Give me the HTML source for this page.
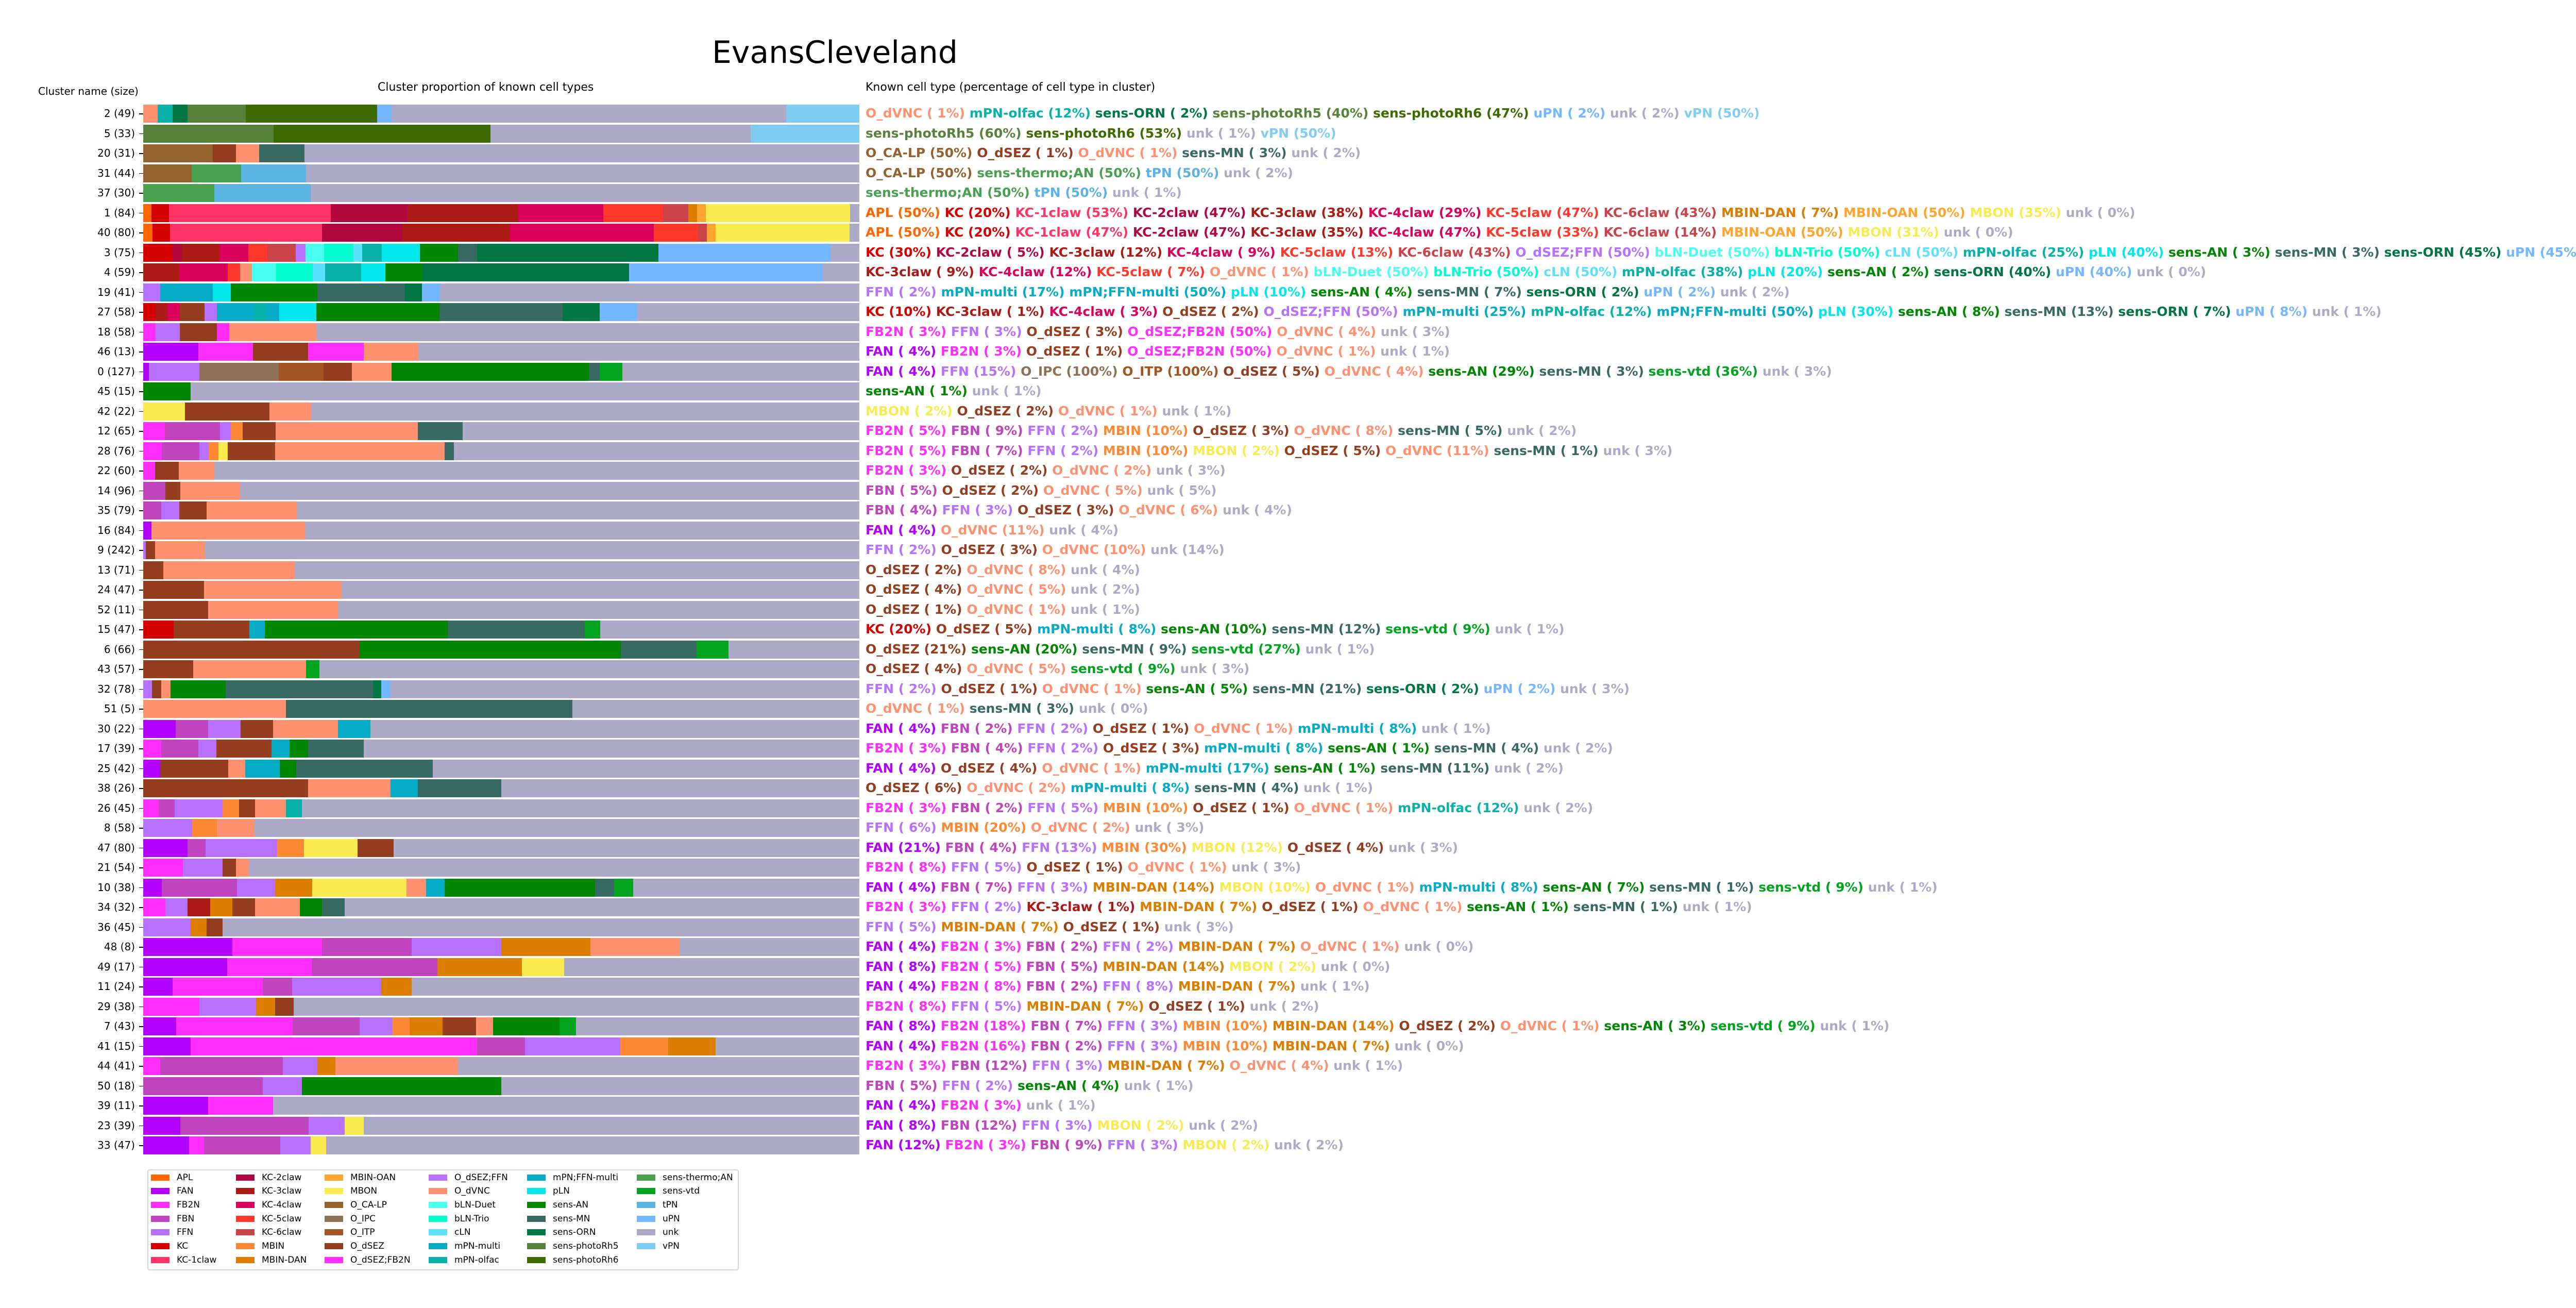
<!DOCTYPE html>
<html><head><meta charset="utf-8">
<style>
body{margin:0;width:5311px;height:2538px;background:#fff;position:relative;overflow:hidden;font-family:"DejaVu Sans","Liberation Sans",sans-serif}
.abs{position:absolute;white-space:nowrap}
.apl{--c:#ff6600}.fan{--c:#b300ff}.fb2{--c:#ff2eff}.fbn{--c:#c044bd}.ffn{--c:#b870ff}.kc{--c:#d60000}
.k1{--c:#ff3366}.k2{--c:#b0083e}.k3{--c:#ab1a15}.k4{--c:#dc005d}.k5{--c:#ff382b}.k6{--c:#c94349}
.mb{--c:#ff8834}.md{--c:#dc7d00}.mo{--c:#ffa52e}.mn{--c:#f9eb4f}.cal{--c:#93622f}.ipc{--c:#917156}
.itp{--c:#a35423}.ds{--c:#943d1f}.dsf{--c:#ff2eff}.dsff{--c:#b870ff}.dv{--c:#ff9070}.bd{--c:#48fff0}
.bt{--c:#00ffd0}.cln{--c:#5ce1ff}.mpm{--c:#06acc6}.mpo{--c:#08b2a8}.mpf{--c:#06acc6}.pln{--c:#00e8ec}
.an{--c:#008600}.smn{--c:#386a63}.orn{--c:#007642}.r5{--c:#56823b}.r6{--c:#3e6b00}.th{--c:#49a04f}
.vtd{--c:#00a41f}.tpn{--c:#5ab3e0}.upn{--c:#74b6ff}.unk{--c:#adaac8}.vpn{--c:#80cdf4}
#bars{position:absolute;left:278px;top:203px;width:1390px}
#bars>div{position:relative;height:35px;margin-bottom:3.5px;background:#adaac8}
#bars i{position:absolute;left:0;top:0;height:35px;background:var(--c);width:calc(var(--e) * 100% / 1566)}
#labs{position:absolute;left:0;top:201.25px;width:262px;text-align:right;font-size:20px}
#labs div{height:38.5px;line-height:38.5px;position:relative}
#labs div:after{content:"";position:absolute;right:-16px;top:19px;width:8px;height:1.5px;background:#000}
#txt{position:absolute;left:1680px;top:201.25px;font-size:25px;font-weight:bold;white-space:nowrap}
#txt div{height:38.5px;line-height:38.5px}
#txt b{color:var(--c)}
#leg{position:absolute;left:286px;top:2269px;width:1144px;height:192px;border:2px solid #d6d6d6;border-radius:4px}
.lc{position:absolute;top:2271.6px;font-size:17px}
.lc div{height:26.7px;line-height:26.7px;position:relative;padding-left:50px}
.lc div:before{content:"";position:absolute;left:0;top:7px;width:36px;height:12px;background:var(--c)}
</style></head><body>
<div class="abs" style="left:1382px;top:62px;font-size:60px;line-height:80px">EvansCleveland</div>
<div class="abs" style="left:74px;top:164px;font-size:20px;line-height:26px">Cluster name (size)</div>
<div class="abs" style="left:733px;top:156px;font-size:22px;line-height:28px">Cluster proportion of known cell types</div>
<div class="abs" style="left:1680px;top:156px;font-size:22px;line-height:28px">Known cell type (percentage of cell type in cluster)</div>

<div id="labs">
<div>2 (49)</div><div>5 (33)</div><div>20 (31)</div><div>31 (44)</div><div>37 (30)</div><div>1 (84)</div><div>40 (80)</div><div>3 (75)</div><div>4 (59)</div><div>19 (41)</div><div>27 (58)</div><div>18 (58)</div><div>46 (13)</div><div>0 (127)</div><div>45 (15)</div><div>42 (22)</div><div>12 (65)</div><div>28 (76)</div><div>22 (60)</div><div>14 (96)</div><div>35 (79)</div><div>16 (84)</div><div>9 (242)</div><div>13 (71)</div><div>24 (47)</div><div>52 (11)</div><div>15 (47)</div><div>6 (66)</div><div>43 (57)</div><div>32 (78)</div><div>51 (5)</div><div>30 (22)</div><div>17 (39)</div><div>25 (42)</div><div>38 (26)</div><div>26 (45)</div><div>8 (58)</div><div>47 (80)</div><div>21 (54)</div><div>10 (38)</div><div>34 (32)</div><div>36 (45)</div><div>48 (8)</div><div>49 (17)</div><div>11 (24)</div><div>29 (38)</div><div>7 (43)</div><div>41 (15)</div><div>44 (41)</div><div>50 (18)</div><div>39 (11)</div><div>23 (39)</div><div>33 (47)</div>
</div>

<div id="bars">
<div><i class="vpn" style="--e:1566"></i><i class="unk" style="--e:1406"></i><i class="upn" style="--e:543"></i><i class="r6" style="--e:511"></i><i class="r5" style="--e:224"></i><i class="orn" style="--e:97"></i><i class="mpo" style="--e:64"></i><i class="dv" style="--e:32"></i></div>
<div><i class="vpn" style="--e:1566"></i><i class="unk" style="--e:1328"></i><i class="r6" style="--e:759"></i><i class="r5" style="--e:285"></i></div>
<div><i class="smn" style="--e:353"></i><i class="dv" style="--e:253"></i><i class="ds" style="--e:203"></i><i class="cal" style="--e:152"></i></div>
<div><i class="tpn" style="--e:356"></i><i class="th" style="--e:214"></i><i class="cal" style="--e:106"></i></div>
<div><i class="tpn" style="--e:366"></i><i class="th" style="--e:156"></i></div>
<div><i class="mn" style="--e:1546"></i><i class="mo" style="--e:1230"></i><i class="md" style="--e:1211"></i><i class="k6" style="--e:1192"></i><i class="k5" style="--e:1137"></i><i class="k4" style="--e:1006"></i><i class="k3" style="--e:820"></i><i class="k2" style="--e:578"></i><i class="k1" style="--e:410"></i><i class="kc" style="--e:56"></i><i class="apl" style="--e:18"></i></div>
<div><i class="mn" style="--e:1545"></i><i class="mo" style="--e:1252"></i><i class="k6" style="--e:1233"></i><i class="k5" style="--e:1213"></i><i class="k4" style="--e:1116"></i><i class="k3" style="--e:802"></i><i class="k2" style="--e:567"></i><i class="k1" style="--e:391"></i><i class="kc" style="--e:59"></i><i class="apl" style="--e:20"></i></div>
<div><i class="upn" style="--e:1503"></i><i class="orn" style="--e:1127"></i><i class="smn" style="--e:730"></i><i class="an" style="--e:688"></i><i class="pln" style="--e:605"></i><i class="mpo" style="--e:522"></i><i class="cln" style="--e:479"></i><i class="bt" style="--e:460"></i><i class="bd" style="--e:396"></i><i class="dsff" style="--e:355"></i><i class="k6" style="--e:334"></i><i class="k5" style="--e:271"></i><i class="k4" style="--e:230"></i><i class="k3" style="--e:167"></i><i class="k2" style="--e:84"></i><i class="kc" style="--e:64"></i></div>
<div><i class="upn" style="--e:1486"></i><i class="orn" style="--e:1062"></i><i class="an" style="--e:610"></i><i class="pln" style="--e:530"></i><i class="mpo" style="--e:477"></i><i class="cln" style="--e:398"></i><i class="bt" style="--e:371"></i><i class="bd" style="--e:291"></i><i class="dv" style="--e:238"></i><i class="k5" style="--e:212"></i><i class="k4" style="--e:185"></i><i class="k3" style="--e:79"></i></div>
<div><i class="upn" style="--e:649"></i><i class="orn" style="--e:610"></i><i class="smn" style="--e:572"></i><i class="an" style="--e:381"></i><i class="pln" style="--e:191"></i><i class="mpf" style="--e:152"></i><i class="ffn" style="--e:37"></i></div>
<div><i class="upn" style="--e:1080"></i><i class="orn" style="--e:998"></i><i class="smn" style="--e:917"></i><i class="an" style="--e:648"></i><i class="pln" style="--e:378"></i><i class="mpf" style="--e:297"></i><i class="mpo" style="--e:269"></i><i class="mpm" style="--e:243"></i><i class="dsff" style="--e:161"></i><i class="ds" style="--e:134"></i><i class="k4" style="--e:80"></i><i class="k3" style="--e:53"></i><i class="kc" style="--e:27"></i></div>
<div><i class="dv" style="--e:378"></i><i class="dsf" style="--e:188"></i><i class="ds" style="--e:161"></i><i class="ffn" style="--e:80"></i><i class="fb2" style="--e:27"></i></div>
<div><i class="dv" style="--e:602"></i><i class="dsf" style="--e:482"></i><i class="ds" style="--e:361"></i><i class="fb2" style="--e:240"></i><i class="fan" style="--e:120"></i></div>
<div><i class="vtd" style="--e:1048"></i><i class="smn" style="--e:998"></i><i class="an" style="--e:974"></i><i class="dv" style="--e:543"></i><i class="ds" style="--e:456"></i><i class="itp" style="--e:394"></i><i class="ipc" style="--e:296"></i><i class="ffn" style="--e:123"></i><i class="fan" style="--e:12"></i></div>
<div><i class="an" style="--e:104"></i></div>
<div><i class="dv" style="--e:367"></i><i class="ds" style="--e:276"></i><i class="mn" style="--e:91"></i></div>
<div><i class="smn" style="--e:698"></i><i class="dv" style="--e:601"></i><i class="ds" style="--e:289"></i><i class="mb" style="--e:217"></i><i class="ffn" style="--e:191"></i><i class="fbn" style="--e:168"></i><i class="fb2" style="--e:47"></i></div>
<div><i class="smn" style="--e:679"></i><i class="dv" style="--e:659"></i><i class="ds" style="--e:288"></i><i class="mn" style="--e:185"></i><i class="mb" style="--e:165"></i><i class="ffn" style="--e:143"></i><i class="fbn" style="--e:123"></i><i class="fb2" style="--e:41"></i></div>
<div><i class="dv" style="--e:156"></i><i class="ds" style="--e:78"></i><i class="fb2" style="--e:26"></i></div>
<div><i class="dv" style="--e:212"></i><i class="ds" style="--e:81"></i><i class="fbn" style="--e:49"></i></div>
<div><i class="dv" style="--e:336"></i><i class="ds" style="--e:139"></i><i class="ffn" style="--e:79"></i><i class="fbn" style="--e:39"></i></div>
<div><i class="dv" style="--e:354"></i><i class="fan" style="--e:18"></i></div>
<div><i class="dv" style="--e:135"></i><i class="ds" style="--e:26"></i><i class="ffn" style="--e:6"></i></div>
<div><i class="dv" style="--e:331"></i><i class="ds" style="--e:44"></i></div>
<div><i class="dv" style="--e:434"></i><i class="ds" style="--e:133"></i></div>
<div><i class="dv" style="--e:426"></i><i class="ds" style="--e:142"></i></div>
<div><i class="vtd" style="--e:999"></i><i class="smn" style="--e:966"></i><i class="an" style="--e:666"></i><i class="mpm" style="--e:266"></i><i class="ds" style="--e:232"></i><i class="kc" style="--e:67"></i></div>
<div><i class="vtd" style="--e:1280"></i><i class="smn" style="--e:1210"></i><i class="an" style="--e:1044"></i><i class="ds" style="--e:473"></i></div>
<div><i class="vtd" style="--e:385"></i><i class="dv" style="--e:356"></i><i class="ds" style="--e:109"></i></div>
<div><i class="upn" style="--e:541"></i><i class="orn" style="--e:521"></i><i class="smn" style="--e:502"></i><i class="an" style="--e:180"></i><i class="dv" style="--e:60"></i><i class="ds" style="--e:39"></i><i class="ffn" style="--e:19"></i></div>
<div><i class="smn" style="--e:939"></i><i class="dv" style="--e:312"></i></div>
<div><i class="mpm" style="--e:497"></i><i class="dv" style="--e:426"></i><i class="ds" style="--e:284"></i><i class="ffn" style="--e:213"></i><i class="fbn" style="--e:142"></i><i class="fan" style="--e:71"></i></div>
<div><i class="smn" style="--e:482"></i><i class="an" style="--e:361"></i><i class="mpm" style="--e:320"></i><i class="ds" style="--e:281"></i><i class="ffn" style="--e:160"></i><i class="fbn" style="--e:120"></i><i class="fb2" style="--e:39"></i></div>
<div><i class="smn" style="--e:633"></i><i class="an" style="--e:335"></i><i class="mpm" style="--e:298"></i><i class="dv" style="--e:223"></i><i class="ds" style="--e:186"></i><i class="fan" style="--e:37"></i></div>
<div><i class="smn" style="--e:783"></i><i class="mpm" style="--e:601"></i><i class="dv" style="--e:541"></i><i class="ds" style="--e:361"></i></div>
<div><i class="mpo" style="--e:347"></i><i class="dv" style="--e:312"></i><i class="ds" style="--e:244"></i><i class="mb" style="--e:209"></i><i class="ffn" style="--e:174"></i><i class="fbn" style="--e:69"></i><i class="fb2" style="--e:34"></i></div>
<div><i class="dv" style="--e:243"></i><i class="mb" style="--e:161"></i><i class="ffn" style="--e:107"></i></div>
<div><i class="ds" style="--e:547"></i><i class="mn" style="--e:469"></i><i class="mb" style="--e:352"></i><i class="ffn" style="--e:293"></i><i class="fbn" style="--e:136"></i><i class="fan" style="--e:97"></i></div>
<div><i class="dv" style="--e:231"></i><i class="ds" style="--e:203"></i><i class="ffn" style="--e:174"></i><i class="fb2" style="--e:87"></i></div>
<div><i class="vtd" style="--e:1071"></i><i class="smn" style="--e:1030"></i><i class="an" style="--e:988"></i><i class="mpm" style="--e:659"></i><i class="dv" style="--e:618"></i><i class="mn" style="--e:576"></i><i class="md" style="--e:370"></i><i class="ffn" style="--e:288"></i><i class="fbn" style="--e:205"></i><i class="fan" style="--e:41"></i></div>
<div><i class="smn" style="--e:440"></i><i class="an" style="--e:391"></i><i class="dv" style="--e:342"></i><i class="ds" style="--e:245"></i><i class="md" style="--e:195"></i><i class="k3" style="--e:147"></i><i class="ffn" style="--e:97"></i><i class="fb2" style="--e:49"></i></div>
<div><i class="ds" style="--e:174"></i><i class="md" style="--e:139"></i><i class="ffn" style="--e:104"></i></div>
<div><i class="dv" style="--e:1173"></i><i class="md" style="--e:978"></i><i class="ffn" style="--e:783"></i><i class="fbn" style="--e:587"></i><i class="fb2" style="--e:391"></i><i class="fan" style="--e:195"></i></div>
<div><i class="mn" style="--e:920"></i><i class="md" style="--e:828"></i><i class="fbn" style="--e:643"></i><i class="fb2" style="--e:368"></i><i class="fan" style="--e:184"></i></div>
<div><i class="md" style="--e:587"></i><i class="ffn" style="--e:521"></i><i class="fbn" style="--e:326"></i><i class="fb2" style="--e:261"></i><i class="fan" style="--e:64"></i></div>
<div><i class="ds" style="--e:329"></i><i class="md" style="--e:288"></i><i class="ffn" style="--e:247"></i><i class="fb2" style="--e:123"></i></div>
<div><i class="vtd" style="--e:946"></i><i class="an" style="--e:910"></i><i class="dv" style="--e:765"></i><i class="ds" style="--e:728"></i><i class="md" style="--e:655"></i><i class="mb" style="--e:582"></i><i class="ffn" style="--e:545"></i><i class="fbn" style="--e:473"></i><i class="fb2" style="--e:327"></i><i class="fan" style="--e:72"></i></div>
<div><i class="md" style="--e:1252"></i><i class="mb" style="--e:1148"></i><i class="ffn" style="--e:1043"></i><i class="fbn" style="--e:835"></i><i class="fb2" style="--e:730"></i><i class="fan" style="--e:104"></i></div>
<div><i class="dv" style="--e:688"></i><i class="md" style="--e:420"></i><i class="ffn" style="--e:381"></i><i class="fbn" style="--e:305"></i><i class="fb2" style="--e:37"></i></div>
<div><i class="an" style="--e:783"></i><i class="ffn" style="--e:347"></i><i class="fbn" style="--e:261"></i></div>
<div><i class="fb2" style="--e:284"></i><i class="fan" style="--e:142"></i></div>
<div><i class="mn" style="--e:482"></i><i class="ffn" style="--e:441"></i><i class="fbn" style="--e:362"></i><i class="fan" style="--e:81"></i></div>
<div><i class="mn" style="--e:400"></i><i class="ffn" style="--e:366"></i><i class="fbn" style="--e:300"></i><i class="fb2" style="--e:133"></i><i class="fan" style="--e:100"></i></div>
</div>

<div id="txt">
<div><b class="dv">O_dVNC ( 1%)</b> <b class="mpo">mPN-olfac (12%)</b> <b class="orn">sens-ORN ( 2%)</b> <b class="r5">sens-photoRh5 (40%)</b> <b class="r6">sens-photoRh6 (47%)</b> <b class="upn">uPN ( 2%)</b> <b class="unk">unk ( 2%)</b> <b class="vpn">vPN (50%)</b></div>
<div><b class="r5">sens-photoRh5 (60%)</b> <b class="r6">sens-photoRh6 (53%)</b> <b class="unk">unk ( 1%)</b> <b class="vpn">vPN (50%)</b></div>
<div><b class="cal">O_CA-LP (50%)</b> <b class="ds">O_dSEZ ( 1%)</b> <b class="dv">O_dVNC ( 1%)</b> <b class="smn">sens-MN ( 3%)</b> <b class="unk">unk ( 2%)</b></div>
<div><b class="cal">O_CA-LP (50%)</b> <b class="th">sens-thermo;AN (50%)</b> <b class="tpn">tPN (50%)</b> <b class="unk">unk ( 2%)</b></div>
<div><b class="th">sens-thermo;AN (50%)</b> <b class="tpn">tPN (50%)</b> <b class="unk">unk ( 1%)</b></div>
<div><b class="apl">APL (50%)</b> <b class="kc">KC (20%)</b> <b class="k1">KC-1claw (53%)</b> <b class="k2">KC-2claw (47%)</b> <b class="k3">KC-3claw (38%)</b> <b class="k4">KC-4claw (29%)</b> <b class="k5">KC-5claw (47%)</b> <b class="k6">KC-6claw (43%)</b> <b class="md">MBIN-DAN ( 7%)</b> <b class="mo">MBIN-OAN (50%)</b> <b class="mn">MBON (35%)</b> <b class="unk">unk ( 0%)</b></div>
<div><b class="apl">APL (50%)</b> <b class="kc">KC (20%)</b> <b class="k1">KC-1claw (47%)</b> <b class="k2">KC-2claw (47%)</b> <b class="k3">KC-3claw (35%)</b> <b class="k4">KC-4claw (47%)</b> <b class="k5">KC-5claw (33%)</b> <b class="k6">KC-6claw (14%)</b> <b class="mo">MBIN-OAN (50%)</b> <b class="mn">MBON (31%)</b> <b class="unk">unk ( 0%)</b></div>
<div><b class="kc">KC (30%)</b> <b class="k2">KC-2claw ( 5%)</b> <b class="k3">KC-3claw (12%)</b> <b class="k4">KC-4claw ( 9%)</b> <b class="k5">KC-5claw (13%)</b> <b class="k6">KC-6claw (43%)</b> <b class="dsff">O_dSEZ;FFN (50%)</b> <b class="bd">bLN-Duet (50%)</b> <b class="bt">bLN-Trio (50%)</b> <b class="cln">cLN (50%)</b> <b class="mpo">mPN-olfac (25%)</b> <b class="pln">pLN (40%)</b> <b class="an">sens-AN ( 3%)</b> <b class="smn">sens-MN ( 3%)</b> <b class="orn">sens-ORN (45%)</b> <b class="upn">uPN (45%)</b> <b class="unk">unk ( 0%)</b></div>
<div><b class="k3">KC-3claw ( 9%)</b> <b class="k4">KC-4claw (12%)</b> <b class="k5">KC-5claw ( 7%)</b> <b class="dv">O_dVNC ( 1%)</b> <b class="bd">bLN-Duet (50%)</b> <b class="bt">bLN-Trio (50%)</b> <b class="cln">cLN (50%)</b> <b class="mpo">mPN-olfac (38%)</b> <b class="pln">pLN (20%)</b> <b class="an">sens-AN ( 2%)</b> <b class="orn">sens-ORN (40%)</b> <b class="upn">uPN (40%)</b> <b class="unk">unk ( 0%)</b></div>
<div><b class="ffn">FFN ( 2%)</b> <b class="mpm">mPN-multi (17%)</b> <b class="mpf">mPN;FFN-multi (50%)</b> <b class="pln">pLN (10%)</b> <b class="an">sens-AN ( 4%)</b> <b class="smn">sens-MN ( 7%)</b> <b class="orn">sens-ORN ( 2%)</b> <b class="upn">uPN ( 2%)</b> <b class="unk">unk ( 2%)</b></div>
<div><b class="kc">KC (10%)</b> <b class="k3">KC-3claw ( 1%)</b> <b class="k4">KC-4claw ( 3%)</b> <b class="ds">O_dSEZ ( 2%)</b> <b class="dsff">O_dSEZ;FFN (50%)</b> <b class="mpm">mPN-multi (25%)</b> <b class="mpo">mPN-olfac (12%)</b> <b class="mpf">mPN;FFN-multi (50%)</b> <b class="pln">pLN (30%)</b> <b class="an">sens-AN ( 8%)</b> <b class="smn">sens-MN (13%)</b> <b class="orn">sens-ORN ( 7%)</b> <b class="upn">uPN ( 8%)</b> <b class="unk">unk ( 1%)</b></div>
<div><b class="fb2">FB2N ( 3%)</b> <b class="ffn">FFN ( 3%)</b> <b class="ds">O_dSEZ ( 3%)</b> <b class="dsf">O_dSEZ;FB2N (50%)</b> <b class="dv">O_dVNC ( 4%)</b> <b class="unk">unk ( 3%)</b></div>
<div><b class="fan">FAN ( 4%)</b> <b class="fb2">FB2N ( 3%)</b> <b class="ds">O_dSEZ ( 1%)</b> <b class="dsf">O_dSEZ;FB2N (50%)</b> <b class="dv">O_dVNC ( 1%)</b> <b class="unk">unk ( 1%)</b></div>
<div><b class="fan">FAN ( 4%)</b> <b class="ffn">FFN (15%)</b> <b class="ipc">O_IPC (100%)</b> <b class="itp">O_ITP (100%)</b> <b class="ds">O_dSEZ ( 5%)</b> <b class="dv">O_dVNC ( 4%)</b> <b class="an">sens-AN (29%)</b> <b class="smn">sens-MN ( 3%)</b> <b class="vtd">sens-vtd (36%)</b> <b class="unk">unk ( 3%)</b></div>
<div><b class="an">sens-AN ( 1%)</b> <b class="unk">unk ( 1%)</b></div>
<div><b class="mn">MBON ( 2%)</b> <b class="ds">O_dSEZ ( 2%)</b> <b class="dv">O_dVNC ( 1%)</b> <b class="unk">unk ( 1%)</b></div>
<div><b class="fb2">FB2N ( 5%)</b> <b class="fbn">FBN ( 9%)</b> <b class="ffn">FFN ( 2%)</b> <b class="mb">MBIN (10%)</b> <b class="ds">O_dSEZ ( 3%)</b> <b class="dv">O_dVNC ( 8%)</b> <b class="smn">sens-MN ( 5%)</b> <b class="unk">unk ( 2%)</b></div>
<div><b class="fb2">FB2N ( 5%)</b> <b class="fbn">FBN ( 7%)</b> <b class="ffn">FFN ( 2%)</b> <b class="mb">MBIN (10%)</b> <b class="mn">MBON ( 2%)</b> <b class="ds">O_dSEZ ( 5%)</b> <b class="dv">O_dVNC (11%)</b> <b class="smn">sens-MN ( 1%)</b> <b class="unk">unk ( 3%)</b></div>
<div><b class="fb2">FB2N ( 3%)</b> <b class="ds">O_dSEZ ( 2%)</b> <b class="dv">O_dVNC ( 2%)</b> <b class="unk">unk ( 3%)</b></div>
<div><b class="fbn">FBN ( 5%)</b> <b class="ds">O_dSEZ ( 2%)</b> <b class="dv">O_dVNC ( 5%)</b> <b class="unk">unk ( 5%)</b></div>
<div><b class="fbn">FBN ( 4%)</b> <b class="ffn">FFN ( 3%)</b> <b class="ds">O_dSEZ ( 3%)</b> <b class="dv">O_dVNC ( 6%)</b> <b class="unk">unk ( 4%)</b></div>
<div><b class="fan">FAN ( 4%)</b> <b class="dv">O_dVNC (11%)</b> <b class="unk">unk ( 4%)</b></div>
<div><b class="ffn">FFN ( 2%)</b> <b class="ds">O_dSEZ ( 3%)</b> <b class="dv">O_dVNC (10%)</b> <b class="unk">unk (14%)</b></div>
<div><b class="ds">O_dSEZ ( 2%)</b> <b class="dv">O_dVNC ( 8%)</b> <b class="unk">unk ( 4%)</b></div>
<div><b class="ds">O_dSEZ ( 4%)</b> <b class="dv">O_dVNC ( 5%)</b> <b class="unk">unk ( 2%)</b></div>
<div><b class="ds">O_dSEZ ( 1%)</b> <b class="dv">O_dVNC ( 1%)</b> <b class="unk">unk ( 1%)</b></div>
<div><b class="kc">KC (20%)</b> <b class="ds">O_dSEZ ( 5%)</b> <b class="mpm">mPN-multi ( 8%)</b> <b class="an">sens-AN (10%)</b> <b class="smn">sens-MN (12%)</b> <b class="vtd">sens-vtd ( 9%)</b> <b class="unk">unk ( 1%)</b></div>
<div><b class="ds">O_dSEZ (21%)</b> <b class="an">sens-AN (20%)</b> <b class="smn">sens-MN ( 9%)</b> <b class="vtd">sens-vtd (27%)</b> <b class="unk">unk ( 1%)</b></div>
<div><b class="ds">O_dSEZ ( 4%)</b> <b class="dv">O_dVNC ( 5%)</b> <b class="vtd">sens-vtd ( 9%)</b> <b class="unk">unk ( 3%)</b></div>
<div><b class="ffn">FFN ( 2%)</b> <b class="ds">O_dSEZ ( 1%)</b> <b class="dv">O_dVNC ( 1%)</b> <b class="an">sens-AN ( 5%)</b> <b class="smn">sens-MN (21%)</b> <b class="orn">sens-ORN ( 2%)</b> <b class="upn">uPN ( 2%)</b> <b class="unk">unk ( 3%)</b></div>
<div><b class="dv">O_dVNC ( 1%)</b> <b class="smn">sens-MN ( 3%)</b> <b class="unk">unk ( 0%)</b></div>
<div><b class="fan">FAN ( 4%)</b> <b class="fbn">FBN ( 2%)</b> <b class="ffn">FFN ( 2%)</b> <b class="ds">O_dSEZ ( 1%)</b> <b class="dv">O_dVNC ( 1%)</b> <b class="mpm">mPN-multi ( 8%)</b> <b class="unk">unk ( 1%)</b></div>
<div><b class="fb2">FB2N ( 3%)</b> <b class="fbn">FBN ( 4%)</b> <b class="ffn">FFN ( 2%)</b> <b class="ds">O_dSEZ ( 3%)</b> <b class="mpm">mPN-multi ( 8%)</b> <b class="an">sens-AN ( 1%)</b> <b class="smn">sens-MN ( 4%)</b> <b class="unk">unk ( 2%)</b></div>
<div><b class="fan">FAN ( 4%)</b> <b class="ds">O_dSEZ ( 4%)</b> <b class="dv">O_dVNC ( 1%)</b> <b class="mpm">mPN-multi (17%)</b> <b class="an">sens-AN ( 1%)</b> <b class="smn">sens-MN (11%)</b> <b class="unk">unk ( 2%)</b></div>
<div><b class="ds">O_dSEZ ( 6%)</b> <b class="dv">O_dVNC ( 2%)</b> <b class="mpm">mPN-multi ( 8%)</b> <b class="smn">sens-MN ( 4%)</b> <b class="unk">unk ( 1%)</b></div>
<div><b class="fb2">FB2N ( 3%)</b> <b class="fbn">FBN ( 2%)</b> <b class="ffn">FFN ( 5%)</b> <b class="mb">MBIN (10%)</b> <b class="ds">O_dSEZ ( 1%)</b> <b class="dv">O_dVNC ( 1%)</b> <b class="mpo">mPN-olfac (12%)</b> <b class="unk">unk ( 2%)</b></div>
<div><b class="ffn">FFN ( 6%)</b> <b class="mb">MBIN (20%)</b> <b class="dv">O_dVNC ( 2%)</b> <b class="unk">unk ( 3%)</b></div>
<div><b class="fan">FAN (21%)</b> <b class="fbn">FBN ( 4%)</b> <b class="ffn">FFN (13%)</b> <b class="mb">MBIN (30%)</b> <b class="mn">MBON (12%)</b> <b class="ds">O_dSEZ ( 4%)</b> <b class="unk">unk ( 3%)</b></div>
<div><b class="fb2">FB2N ( 8%)</b> <b class="ffn">FFN ( 5%)</b> <b class="ds">O_dSEZ ( 1%)</b> <b class="dv">O_dVNC ( 1%)</b> <b class="unk">unk ( 3%)</b></div>
<div><b class="fan">FAN ( 4%)</b> <b class="fbn">FBN ( 7%)</b> <b class="ffn">FFN ( 3%)</b> <b class="md">MBIN-DAN (14%)</b> <b class="mn">MBON (10%)</b> <b class="dv">O_dVNC ( 1%)</b> <b class="mpm">mPN-multi ( 8%)</b> <b class="an">sens-AN ( 7%)</b> <b class="smn">sens-MN ( 1%)</b> <b class="vtd">sens-vtd ( 9%)</b> <b class="unk">unk ( 1%)</b></div>
<div><b class="fb2">FB2N ( 3%)</b> <b class="ffn">FFN ( 2%)</b> <b class="k3">KC-3claw ( 1%)</b> <b class="md">MBIN-DAN ( 7%)</b> <b class="ds">O_dSEZ ( 1%)</b> <b class="dv">O_dVNC ( 1%)</b> <b class="an">sens-AN ( 1%)</b> <b class="smn">sens-MN ( 1%)</b> <b class="unk">unk ( 1%)</b></div>
<div><b class="ffn">FFN ( 5%)</b> <b class="md">MBIN-DAN ( 7%)</b> <b class="ds">O_dSEZ ( 1%)</b> <b class="unk">unk ( 3%)</b></div>
<div><b class="fan">FAN ( 4%)</b> <b class="fb2">FB2N ( 3%)</b> <b class="fbn">FBN ( 2%)</b> <b class="ffn">FFN ( 2%)</b> <b class="md">MBIN-DAN ( 7%)</b> <b class="dv">O_dVNC ( 1%)</b> <b class="unk">unk ( 0%)</b></div>
<div><b class="fan">FAN ( 8%)</b> <b class="fb2">FB2N ( 5%)</b> <b class="fbn">FBN ( 5%)</b> <b class="md">MBIN-DAN (14%)</b> <b class="mn">MBON ( 2%)</b> <b class="unk">unk ( 0%)</b></div>
<div><b class="fan">FAN ( 4%)</b> <b class="fb2">FB2N ( 8%)</b> <b class="fbn">FBN ( 2%)</b> <b class="ffn">FFN ( 8%)</b> <b class="md">MBIN-DAN ( 7%)</b> <b class="unk">unk ( 1%)</b></div>
<div><b class="fb2">FB2N ( 8%)</b> <b class="ffn">FFN ( 5%)</b> <b class="md">MBIN-DAN ( 7%)</b> <b class="ds">O_dSEZ ( 1%)</b> <b class="unk">unk ( 2%)</b></div>
<div><b class="fan">FAN ( 8%)</b> <b class="fb2">FB2N (18%)</b> <b class="fbn">FBN ( 7%)</b> <b class="ffn">FFN ( 3%)</b> <b class="mb">MBIN (10%)</b> <b class="md">MBIN-DAN (14%)</b> <b class="ds">O_dSEZ ( 2%)</b> <b class="dv">O_dVNC ( 1%)</b> <b class="an">sens-AN ( 3%)</b> <b class="vtd">sens-vtd ( 9%)</b> <b class="unk">unk ( 1%)</b></div>
<div><b class="fan">FAN ( 4%)</b> <b class="fb2">FB2N (16%)</b> <b class="fbn">FBN ( 2%)</b> <b class="ffn">FFN ( 3%)</b> <b class="mb">MBIN (10%)</b> <b class="md">MBIN-DAN ( 7%)</b> <b class="unk">unk ( 0%)</b></div>
<div><b class="fb2">FB2N ( 3%)</b> <b class="fbn">FBN (12%)</b> <b class="ffn">FFN ( 3%)</b> <b class="md">MBIN-DAN ( 7%)</b> <b class="dv">O_dVNC ( 4%)</b> <b class="unk">unk ( 1%)</b></div>
<div><b class="fbn">FBN ( 5%)</b> <b class="ffn">FFN ( 2%)</b> <b class="an">sens-AN ( 4%)</b> <b class="unk">unk ( 1%)</b></div>
<div><b class="fan">FAN ( 4%)</b> <b class="fb2">FB2N ( 3%)</b> <b class="unk">unk ( 1%)</b></div>
<div><b class="fan">FAN ( 8%)</b> <b class="fbn">FBN (12%)</b> <b class="ffn">FFN ( 3%)</b> <b class="mn">MBON ( 2%)</b> <b class="unk">unk ( 2%)</b></div>
<div><b class="fan">FAN (12%)</b> <b class="fb2">FB2N ( 3%)</b> <b class="fbn">FBN ( 9%)</b> <b class="ffn">FFN ( 3%)</b> <b class="mn">MBON ( 2%)</b> <b class="unk">unk ( 2%)</b></div>
</div>

<div id="leg"></div>
<div class="lc" style="left:293px"><div class="apl">APL</div><div class="fan">FAN</div><div class="fb2">FB2N</div><div class="fbn">FBN</div><div class="ffn">FFN</div><div class="kc">KC</div><div class="k1">KC-1claw</div></div>
<div class="lc" style="left:458px"><div class="k2">KC-2claw</div><div class="k3">KC-3claw</div><div class="k4">KC-4claw</div><div class="k5">KC-5claw</div><div class="k6">KC-6claw</div><div class="mb">MBIN</div><div class="md">MBIN-DAN</div></div>
<div class="lc" style="left:630px"><div class="mo">MBIN-OAN</div><div class="mn">MBON</div><div class="cal">O_CA-LP</div><div class="ipc">O_IPC</div><div class="itp">O_ITP</div><div class="ds">O_dSEZ</div><div class="dsf">O_dSEZ;FB2N</div></div>
<div class="lc" style="left:832px"><div class="dsff">O_dSEZ;FFN</div><div class="dv">O_dVNC</div><div class="bd">bLN-Duet</div><div class="bt">bLN-Trio</div><div class="cln">cLN</div><div class="mpm">mPN-multi</div><div class="mpo">mPN-olfac</div></div>
<div class="lc" style="left:1023px"><div class="mpf">mPN;FFN-multi</div><div class="pln">pLN</div><div class="an">sens-AN</div><div class="smn">sens-MN</div><div class="orn">sens-ORN</div><div class="r5">sens-photoRh5</div><div class="r6">sens-photoRh6</div></div>
<div class="lc" style="left:1236px"><div class="th">sens-thermo;AN</div><div class="vtd">sens-vtd</div><div class="tpn">tPN</div><div class="upn">uPN</div><div class="unk">unk</div><div class="vpn">vPN</div></div>
</body></html>
